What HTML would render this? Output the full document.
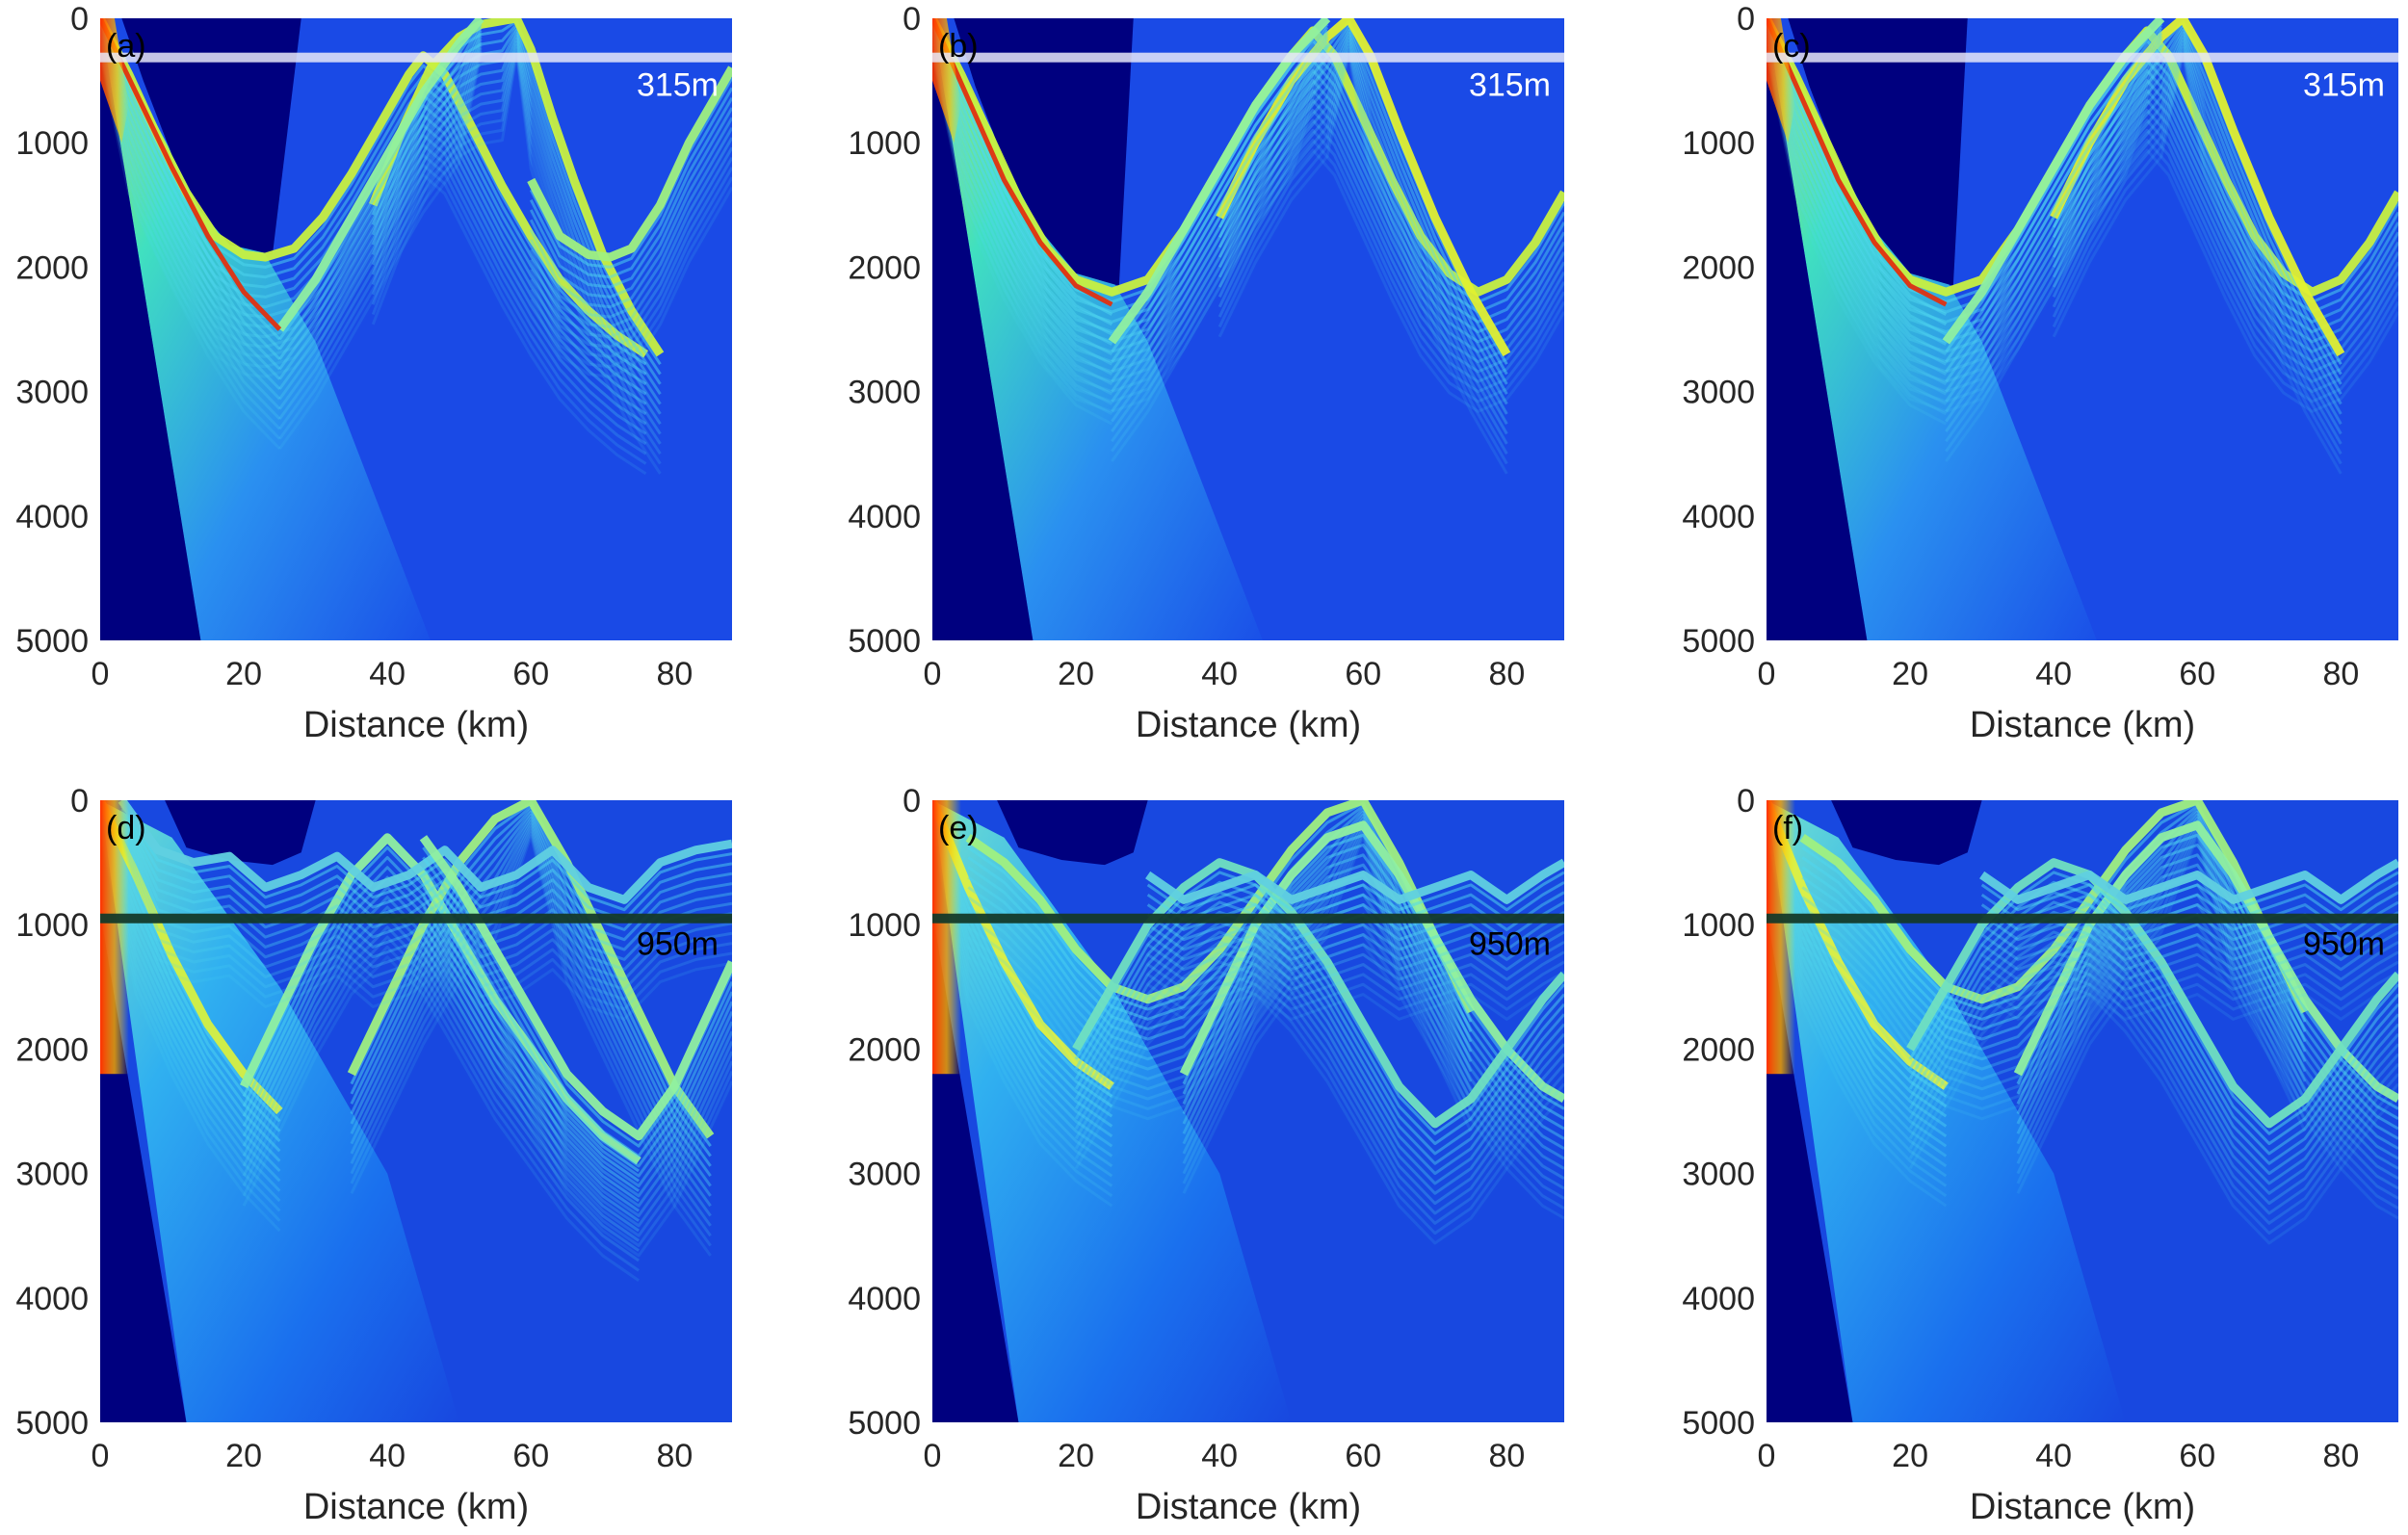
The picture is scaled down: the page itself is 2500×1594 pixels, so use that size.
<!DOCTYPE html>
<html><head><meta charset="utf-8"><style>
html,body{margin:0;padding:0;background:#fff;}
svg{display:block;font-family:"Liberation Sans",sans-serif;}
</style></head><body>
<svg id="fig" width="2500" height="1594" viewBox="0 0 2500 1594" xmlns="http://www.w3.org/2000/svg">
<defs>
<linearGradient id="fanTop" x1="0" y1="0" x2="1" y2="1">
<stop offset="0" stop-color="#b8f040"/><stop offset="0.25" stop-color="#40e0c0"/><stop offset="0.6" stop-color="#2a90f0"/><stop offset="1" stop-color="#1a50e8"/></linearGradient>
<linearGradient id="fanBot" x1="0" y1="0" x2="1" y2="1">
<stop offset="0" stop-color="#70e0d0"/><stop offset="0.3" stop-color="#30b0f0"/><stop offset="0.7" stop-color="#1a70ee"/><stop offset="1" stop-color="#1848e0"/></linearGradient>
<linearGradient id="srcH" x1="0" y1="0" x2="1" y2="0">
<stop offset="0" stop-color="#ff3000"/><stop offset="0.5" stop-color="#ffb000" stop-opacity="0.8"/><stop offset="1" stop-color="#ffee00" stop-opacity="0"/></linearGradient>
<linearGradient id="srcT" x1="0" y1="0" x2="1" y2="0">
<stop offset="0" stop-color="#ff3000"/><stop offset="0.6" stop-color="#ffc000" stop-opacity="0.8"/><stop offset="1" stop-color="#ffee00" stop-opacity="0"/></linearGradient>
</defs>
</svg>
<script>
// axis data
const xTicks=[0,20,40,60,80];
const yTicks=[0,1000,2000,3000,4000,5000];
const xMax=88, yMax=5000;
const panelLabels=['(a)','(b)','(c)','(d)','(e)','(f)'];
const receiverDepths=[315,315,315,950,950,950];
// ray paths per panel: km and depth arrays
const raysA=[
 {km:[0,4,8,12,16,20,23,27,31,35,39,43,45,48,52,56,60,64,68,72,76],d:[0,450,950,1400,1750,1900,1920,1850,1600,1250,850,450,300,450,900,1350,1750,2100,2350,2550,2700],c:'#c8f040'},
 {km:[38,42,46,50,53,56,58,60,63,66,70,74,78],d:[1500,900,400,150,50,20,0,250,800,1300,1900,2350,2700],c:'#c8f040'},
 {km:[60,64,68,71,74,78,82,85,88],d:[1300,1750,1900,1920,1850,1500,1000,700,400],c:'#a0f080'},
 {km:[25,30,35,40,45,50,53],d:[2500,2100,1600,1100,600,200,0],c:'#90f0a0'},
 {km:[0,5,10,15,20,25],d:[0,600,1200,1750,2200,2500],c:'#e03010'}];
const raysB=[
 {km:[0,4,8,12,16,20,25,30,35,40,45,50,53,56,60,64,68,72,76,80,84,88],d:[0,450,950,1450,1850,2100,2200,2100,1700,1200,700,300,100,300,800,1300,1750,2050,2200,2100,1800,1400],c:'#c8f040'},
 {km:[40,45,50,55,58,61,65,70,75,80],d:[1600,1000,500,150,0,300,900,1600,2200,2700],c:'#e0f030'},
 {km:[0,5,10,15,20,25],d:[0,650,1300,1800,2150,2300],c:'#e03010'},
 {km:[25,30,35,40,45,50,55],d:[2600,2200,1700,1200,700,300,0],c:'#90f0a0'}];
const raysC=[
 {km:[0,4,8,12,16,20,25,30,35,40,45,50,53,56,60,64,68,72,76,80,84,88],d:[0,450,950,1450,1850,2100,2200,2100,1700,1200,700,300,100,300,800,1300,1750,2050,2200,2100,1800,1400],c:'#c8f040'},
 {km:[40,45,50,55,58,61,65,70,75,80],d:[1600,1000,500,150,0,300,900,1600,2200,2700],c:'#e0f030'},
 {km:[0,5,10,15,20,25],d:[0,650,1300,1800,2150,2300],c:'#e03010'},
 {km:[25,30,35,40,45,50,55],d:[2600,2200,1700,1200,700,300,0],c:'#90f0a0'}];
const raysD=[
 {km:[0,5,10,15,20,25],d:[0,600,1250,1800,2200,2500],c:'#d8f040'},
 {km:[20,25,30,35,40,45,50,55,60,65,70,75],d:[2300,1700,1100,600,300,600,1100,1600,2000,2400,2700,2900],c:'#90f0a0'},
 {km:[35,40,45,50,55,60,65,70,75,80,85],d:[2200,1600,1000,500,150,0,500,1100,1700,2300,2700],c:'#a0f080'},
 {km:[3,8,13,18,23,28,33,38,43,48,53,58,63,68,73,78,83,88],d:[0,400,500,450,700,600,450,700,600,400,700,600,400,700,800,500,400,350],c:'#60d0e0'},
 {km:[45,50,55,60,65,70,75,80,88],d:[300,700,1200,1700,2200,2500,2700,2300,1300],c:'#90f0a0'}];
const raysE=[
 {km:[0,5,10,15,20,25],d:[0,700,1300,1800,2100,2300],c:'#e0f040'},
 {km:[5,10,15,20,25,30,35,40,45,50,55,60,65,70,75],d:[300,500,800,1200,1500,1600,1500,1200,800,400,100,0,500,1100,1700],c:'#a0f080'},
 {km:[35,40,45,50,55,60,65,70,75,80,85,88],d:[2200,1600,1000,600,300,200,600,1100,1600,2000,2300,2400],c:'#90f0a0'},
 {km:[20,25,30,35,40,45,50,55,60,65,70,75,80,85,88],d:[2000,1500,1000,700,500,600,900,1300,1800,2300,2600,2400,2000,1600,1400],c:'#70e0c0'},
 {km:[30,35,40,45,50,55,60,65,70,75,80,85,88],d:[600,800,700,600,800,700,600,800,700,600,800,600,500],c:'#60d0e0'}];
const raysF=[
 {km:[0,5,10,15,20,25],d:[0,700,1300,1800,2100,2300],c:'#e0f040'},
 {km:[5,10,15,20,25,30,35,40,45,50,55,60,65,70,75],d:[300,500,800,1200,1500,1600,1500,1200,800,400,100,0,500,1100,1700],c:'#a0f080'},
 {km:[35,40,45,50,55,60,65,70,75,80,85,88],d:[2200,1600,1000,600,300,200,600,1100,1600,2000,2300,2400],c:'#90f0a0'},
 {km:[20,25,30,35,40,45,50,55,60,65,70,75,80,85,88],d:[2000,1500,1000,700,500,600,900,1300,1800,2300,2600,2400,2000,1600,1400],c:'#70e0c0'},
 {km:[30,35,40,45,50,55,60,65,70,75,80,85,88],d:[600,800,700,600,800,700,600,800,700,600,800,600,500],c:'#60d0e0'}];
const panelRays=[raysA,raysB,raysC,raysD,raysE,raysF];
const NS='http://www.w3.org/2000/svg';
const svg=document.getElementById('fig');
const lefts=[104,968,1834], tops=[19,831], W=656, H=646;
function mk(tag,attrs,parent){const e=document.createElementNS(NS,tag);for(const k in attrs)e.setAttribute(k,attrs[k]);(parent||svg).appendChild(e);return e;}
for(let p=0;p<6;p++){
 const L=lefts[p%3], T=tops[Math.floor(p/3)], bottom=p>=3;
 const sx=v=>L+v/xMax*W, sy=v=>T+v/yMax*H;
 const g=mk('g',{});
 
 
 const cp=mk('clipPath',{id:'cp'+p},g);mk('rect',{x:L,y:T,width:W,height:H},cp);
 const pg=mk('g',{'clip-path':'url(#cp'+p+')'},g);
 const bg=mk('rect',{x:L,y:T,width:W,height:H,fill:bottom?'#1848e0':'#1a4ae6'},pg);
 
 
 const poly=(pts,fill)=>mk('polygon',{points:pts.map(q=>sx(q[0])+','+sy(q[1])).join(' '),fill:fill},pg);
 const fanPts=bottom?[[0,0],[12,5000],[50,5000],[40,3000],[25,1500],[10,300]]:[[0,0],[14,5000],[46,5000],[30,2600],[23,1900],[12,1300]];
 const fan=poly(fanPts,bottom?'url(#fanBot)':'url(#fanTop)');
 
 
 const shL=poly(bottom?[[0,900],[0,5000],[12,5000]]:[[0,0],[0,5000],[14,5000]],'#00007f');
 
 
 const top1=p===0?[[3,0],[6,500],[10,1100],[14,1550],[18,1820],[24,1900],[28,0]]:(p<3?[[3,0],[6,550],[10,1150],[15,1700],[20,2050],[26,2150],[28,0]]:[[9,0],[12,380],[18,480],[24,520],[28,420],[30,0]]);
 const shT=poly(top1,'#00007f');
 
 
 panelRays[p].forEach((r,ri)=>{
  for(let k=12;k>=0;k--){
   const pts=r.km.map((x,i)=>sx(x)+','+sy(r.d[i]+k*80*(r.d[i]>0?1:0.3)));
   const pl=mk('polyline',{points:pts.join(' '),fill:'none',stroke:k===0?r.c:'#50d8f0','stroke-width':k===0?(r.c==='#e03010'?5:9):3,'stroke-opacity':k===0?0.95:Math.max(0.1,0.55-k*0.035),'stroke-linejoin':'round'},pg);
   
   
  }
 });
 if(bottom){
  const s=mk('rect',{x:L,y:sy(0),width:sx(4)-L,height:sy(2200)-T,fill:'url(#srcH)'},pg);
  
  
 } else {
  const s=mk('polygon',{points:[[0,0],[2,0],[4,700],[3,1000],[0,500]].map(q=>sx(q[0])+','+sy(q[1])).join(' '),fill:'url(#srcT)','opacity':0.9},pg);
  
  
 }
 const rd=receiverDepths[p];
 const rl=mk('rect',{x:L,y:sy(rd)-5,width:W,height:10,fill:bottom?'#143a2a':'#e8e8f8','opacity':bottom?0.95:0.85},pg);
 
 
 const rt=mk('text',{x:L+W-14,y:sy(rd)+(bottom?38:40),'text-anchor':'end','font-size':34,fill:bottom?'#000':'#fff'},g);
 rt.textContent=rd+'m';
 
 
 const pl=mk('text',{x:L+6,y:T+40,'font-size':34,fill:'#000'},g);
 pl.textContent=panelLabels[p];
 
 
 yTicks.forEach(v=>{
  const t=mk('text',{x:L-12,y:sy(v)+12,'text-anchor':'end','font-size':34,fill:'#262626'},g);
  t.textContent=v;
  
  
 });
 xTicks.forEach(v=>{
  const t=mk('text',{x:sx(v),y:T+H+46,'text-anchor':'middle','font-size':34,fill:'#262626'},g);
  t.textContent=v;
  
  
 });
 const xl=mk('text',{x:L+W/2,y:T+H+100,'text-anchor':'middle','font-size':38,fill:'#262626'},g);
 xl.textContent='Distance (km)';
 
 
}
</script>
</body></html>
